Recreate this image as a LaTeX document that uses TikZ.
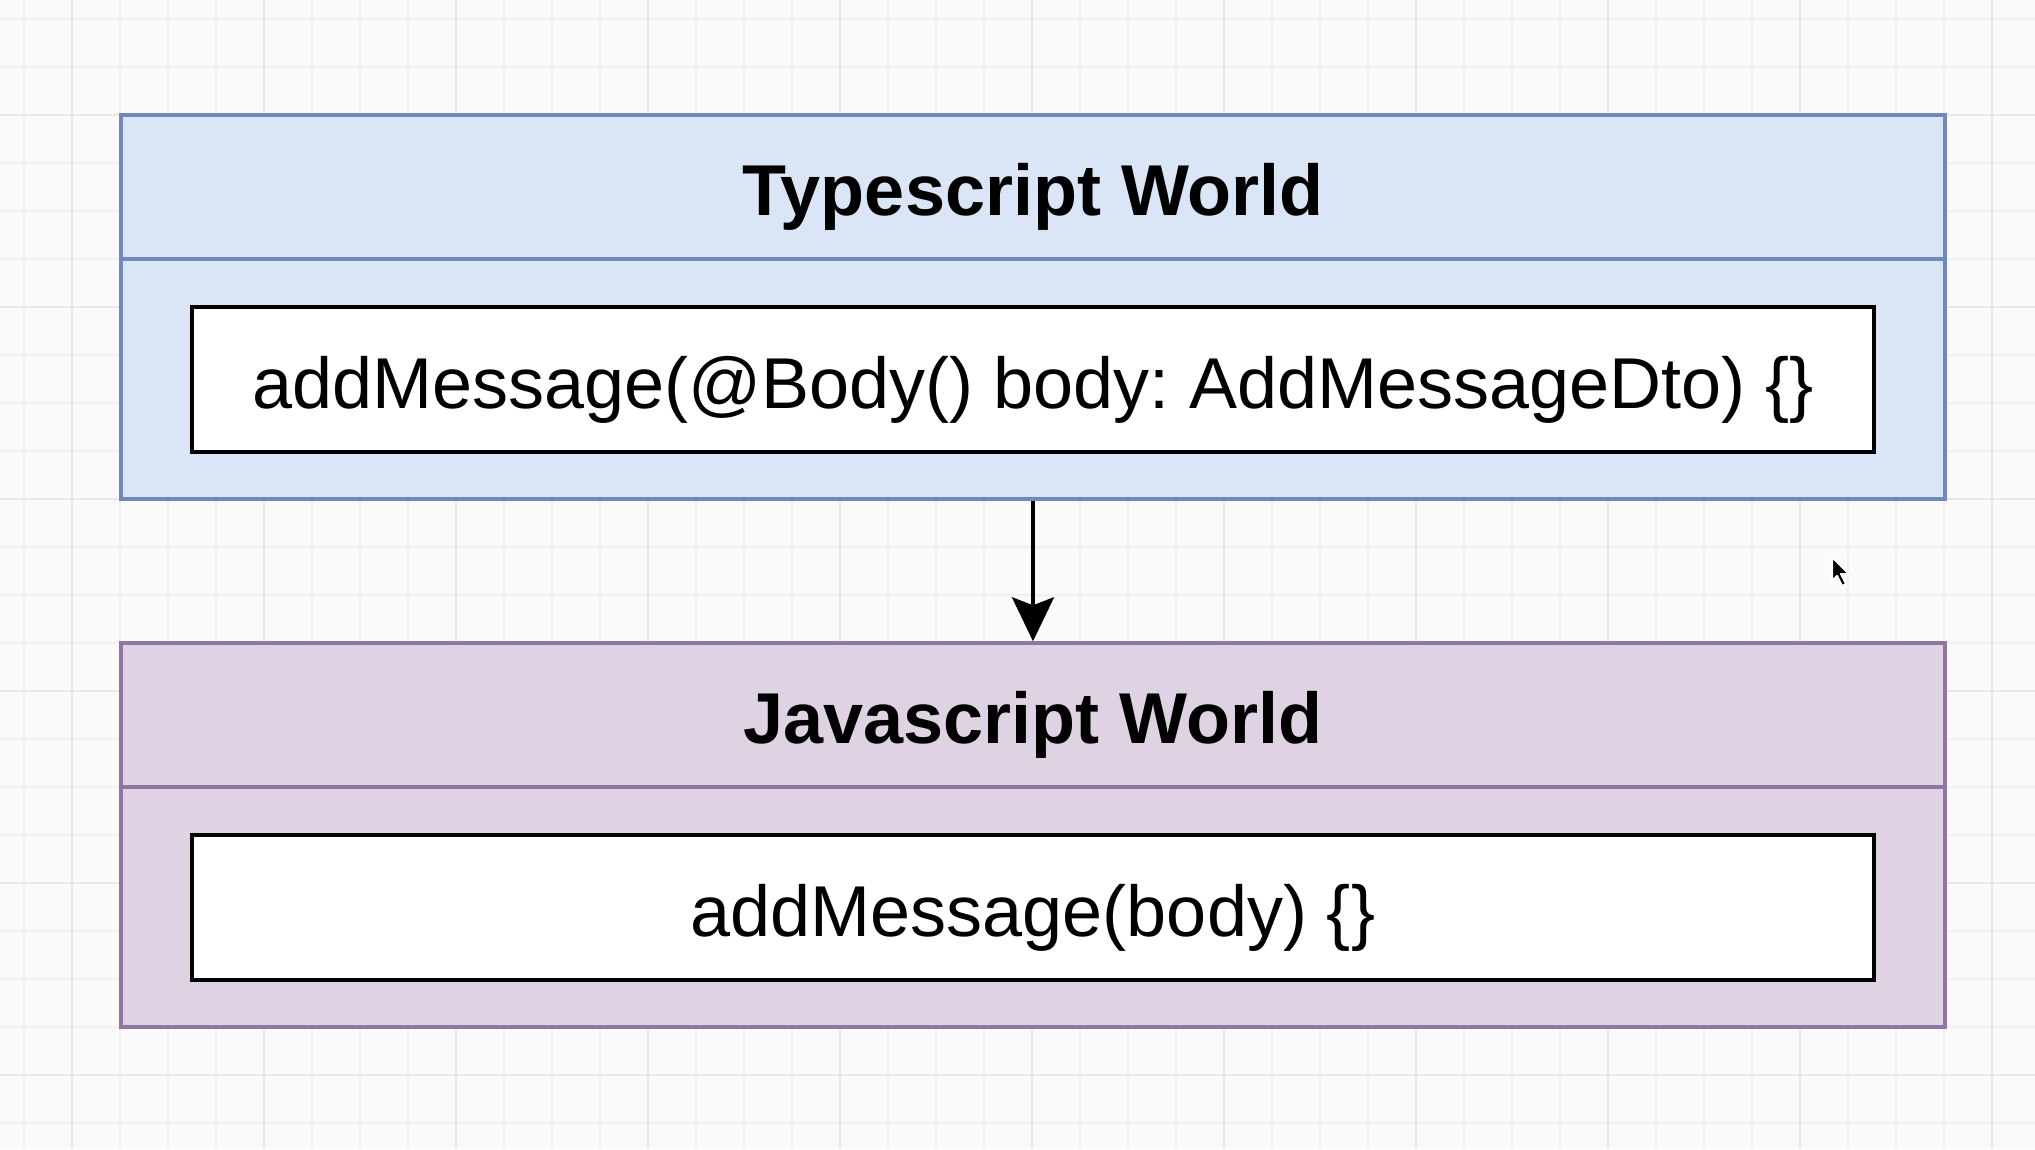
\documentclass[tikz,border=0pt]{standalone}
\usepackage{fontspec}
\setmainfont{Liberation Sans}
\usetikzlibrary{arrows.meta}
\definecolor{paper}{HTML}{FAFAFA}
\definecolor{gridminor}{HTML}{F0F0F0}
\definecolor{gridmajor}{HTML}{E8E8E8}
\definecolor{tsfill}{HTML}{DAE5F6}
\definecolor{tsline}{HTML}{7089BA}
\definecolor{jsfill}{HTML}{DFD2E3}
\definecolor{jsline}{HTML}{8F76A3}
\tikzset{
  world/.style={draw, line width=3.5pt, minimum width=1824pt, minimum height=384pt, inner sep=0pt},
  tsworld/.style={world, fill=tsfill, draw=tsline},
  jsworld/.style={world, fill=jsfill, draw=jsline},
  title/.style={font=\fontsize{72}{86}\selectfont\bfseries, inner sep=0pt, anchor=base},
  codebox/.style={draw=black, line width=4pt, fill=white, minimum width=1682pt, minimum height=145pt, inner sep=0pt},
  code/.style={font=\fontsize{72}{86}\selectfont, inner sep=0pt, anchor=base},
  link/.style={line width=3.5pt, -{Stealth[length=44pt, width=42pt, inset=8pt]}},
}
\begin{document}
\frenchspacing
\begin{tikzpicture}[x=1pt, y=-1pt]
  % canvas and drawing grid
  \fill[paper] (0,0) rectangle (2035,1149);
  \useasboundingbox (0,0) rectangle (2035,1149);
  \foreach \gx in {0,...,42} {
    \draw[gridminor, line width=1.5pt] (24+48*\gx,0) -- (24+48*\gx,1149);
  }
  \foreach \gy in {0,...,23} {
    \draw[gridminor, line width=1.5pt] (0,19+48*\gy) -- (2035,19+48*\gy);
  }
  \foreach \gx in {0,...,10} {
    \draw[gridmajor, line width=1.5pt] (72+192*\gx,0) -- (72+192*\gx,1149);
  }
  \foreach \gy in {0,...,5} {
    \draw[gridmajor, line width=1.5pt] (0,115+192*\gy) -- (2035,115+192*\gy);
  }

  % Typescript world
  \node[tsworld] (ts) at (1033,307) {};
  \draw[tsline, line width=3.5pt] (ts.west |- 0,259) -- (ts.east |- 0,259);
  \node[title] (tstitle) at (1033,215) {Typescript World};
  \node[codebox] (tscodebox) at (1033,379) {};
  \node[code] (tscode) at (1033,408) {addMessage(@Body() body: AddMessageDto) \{\}};

  % Javascript world
  \node[jsworld] (js) at (1033,835) {};
  \draw[jsline, line width=3.5pt] (js.west |- 0,787) -- (js.east |- 0,787);
  \node[title] (jstitle) at (1033,743) {Javascript World};
  \node[codebox] (jscodebox) at (1033,907) {};
  \node[code] (jscode) at (1033,936) {addMessage(body) \{\}};

  % compilation step
  \draw[link] (ts.south) -- (js.north);

  % mouse pointer
  \coordinate (tip) at (1832,557);
  \draw[white, line width=2pt, fill=black, line join=round]
    (tip) -- ++(0,24) -- ++(5,-5) -- ++(5,10) -- ++(4,-2) -- ++(-5,-10) -- ++(8,0) -- cycle;
\end{tikzpicture}
\end{document}
